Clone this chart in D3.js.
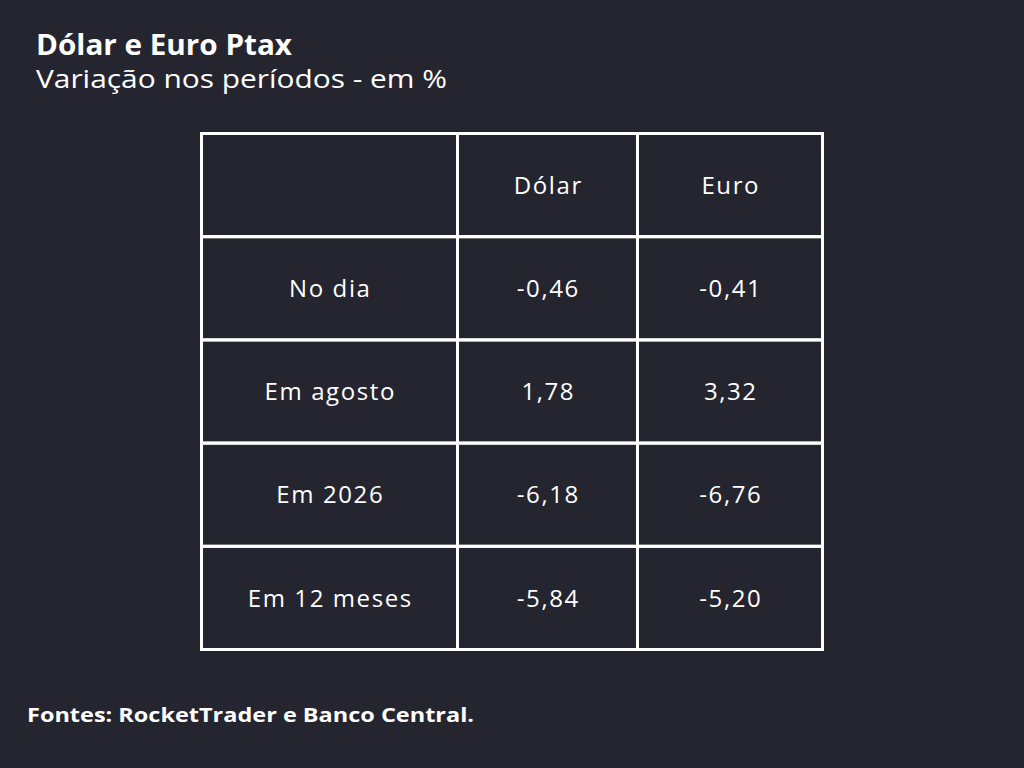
<!DOCTYPE html>
<meta charset="utf-8">
<style>
    body { margin: 0; background: #252530; }
    text { fill: #ffffff; font-family: "Open Sans", sans-serif; }
</style>
<body></body>
<script src="https://d3js.org/d3.v7.min.js"></script>
<script>
    // table contents
    const columns = ["Dólar", "Euro"];
    const periods = ["No dia", "Em agosto", "Em 2026", "Em 12 meses"];
    const dolar = [-0.46, 1.78, -6.18, -5.84];
    const euro = [-0.41, 3.32, -6.76, -5.20];

    const width = 1024, height = 768;

    const svg = d3.select("body").append("svg")
        .attr("width", width)
        .attr("height", height);

    svg.append("rect")
        .attr("width", width)
        .attr("height", height)
        .attr("fill", "#252530");

    // brazilian number format
    const br = d3.formatLocale({decimal: ",", thousands: ".", grouping: [3], currency: ["R$", ""], minus: "-"});
    const fmt = br.format(".2f");

    // rows: header + one per period
    const rowKeys = ["header"].concat(periods);
    const y = d3.scaleBand().domain(rowKeys).range([133.5, 649.5]);

    // column edges
    const colKeys = ["label"].concat(columns);
    const xLeft = d3.scaleOrdinal().domain(colKeys).range([201.5, 457.5, 637.5]);
    const xRight = d3.scaleOrdinal().domain(colKeys).range([457.5, 637.5, 822.5]);
    const xMid = k => (xLeft(k) + xRight(k)) / 2;

    // build cells
    const cells = [];
    rowKeys.forEach((r, i) => {
        colKeys.forEach((c, j) => {
            let txt = "";
            if (r === "header") txt = j === 0 ? "" : c;
            else if (j === 0) txt = r;
            else txt = fmt((j === 1 ? dolar : euro)[i - 1]);
            cells.push({row: r, col: c, text: txt});
        });
    });

    const g = svg.append("g");

    g.selectAll("rect.cell")
        .data(cells)
      .enter().append("rect")
        .attr("class", "cell")
        .attr("x", d => xLeft(d.col))
        .attr("y", d => y(d.row))
        .attr("width", d => xRight(d.col) - xLeft(d.col))
        .attr("height", y.bandwidth())
        .attr("fill", "none")
        .attr("stroke", "#ffffff")
        .attr("stroke-width", 3);

    g.selectAll("text.cell")
        .data(cells.filter(d => d.text !== ""))
      .enter().append("text")
        .attr("class", "cell")
        .attr("x", d => xMid(d.col) + 0.8)
        .attr("y", d => y(d.row) + y.bandwidth() / 2)
        .attr("dy", "0.36em")
        .attr("text-anchor", "middle")
        .style("font-size", "24px")
        .style("letter-spacing", "1.6px")
        .text(d => d.text);

    // titles
    svg.append("text")
        .attr("x", 36).attr("y", 55)
        .attr("textLength", 256).attr("lengthAdjust", "spacingAndGlyphs")
        .style("font-size", "28px").style("font-weight", "700")
        .text("Dólar e Euro Ptax");

    svg.append("text")
        .attr("x", 36).attr("y", 88)
        .attr("textLength", 411).attr("lengthAdjust", "spacingAndGlyphs")
        .style("font-size", "26px").style("font-weight", "400")
        .text("Variação nos períodos - em %");

    svg.append("text")
        .attr("x", 27).attr("y", 722)
        .attr("textLength", 447).attr("lengthAdjust", "spacingAndGlyphs")
        .style("font-size", "19px").style("font-weight", "700")
        .text("Fontes: RocketTrader e Banco Central.");
</script>
